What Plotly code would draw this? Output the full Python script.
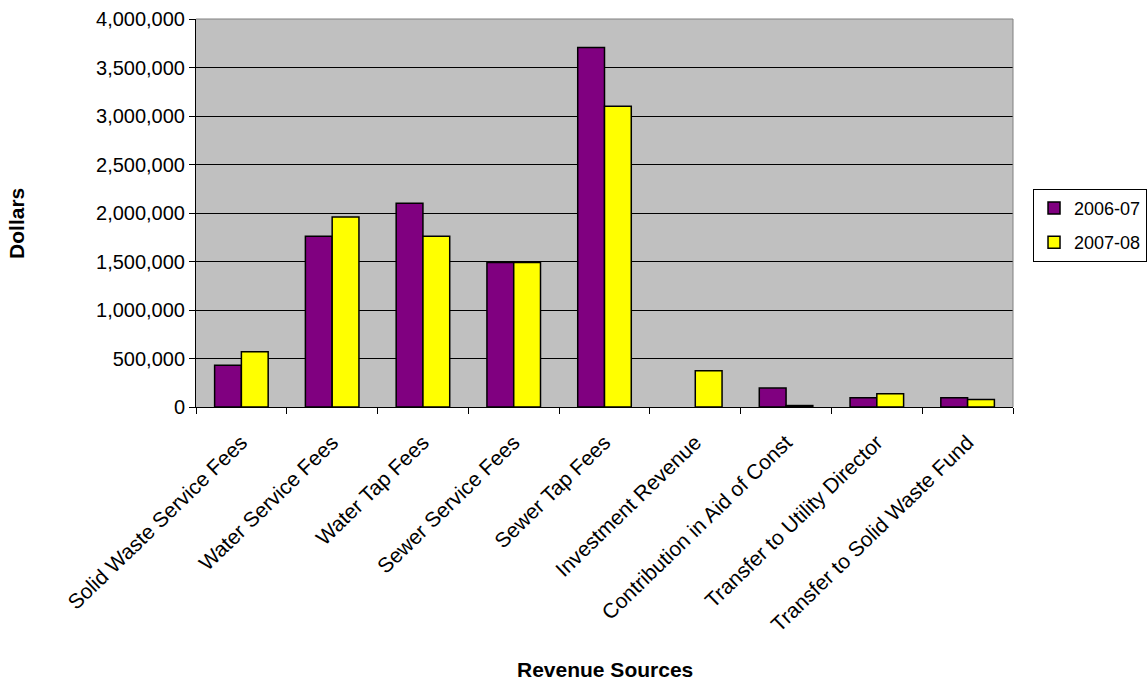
import plotly.graph_objects as go

categories = ["Solid Waste Service Fees", "Water Service Fees", "Water Tap Fees",
              "Sewer Service Fees", "Sewer Tap Fees", "Investment Revenue",
              "Contribution in Aid of Const", "Transfer to Utility Director",
              "Transfer to Solid Waste Fund"]
fy_2006_07 = [430000, 1760000, 2100000, 1490000, 3705000, None, 195000, 96000, 96000]
fy_2007_08 = [570000, 1960000, 1760000, 1490000, 3100000, 375000, 15000, 137000, 78000]
y_ticks = [0, 500000, 1000000, 1500000, 2000000, 2500000, 3000000, 3500000, 4000000]

FONT = "Liberation Sans, Arial, sans-serif"

fig = go.Figure()
fig.add_trace(go.Bar(name="2006-07", x=categories, y=fy_2006_07, legendgroup="a",
                     marker=dict(color="#800080", line=dict(color="black", width=1.5))))
fig.add_trace(go.Bar(name="2007-08", x=categories, y=fy_2007_08, legendgroup="b",
                     marker=dict(color="#FFFF00", line=dict(color="black", width=1.5))))

fig.update_layout(
    width=1147, height=683,
    margin=dict(l=196, r=134, t=19, b=276, autoexpand=False),
    paper_bgcolor="white",
    plot_bgcolor="#C0C0C0",
    barmode="group",
    bargap=0.41,
    bargroupgap=0,
    font=dict(family=FONT, size=20, color="black"),
    showlegend=True,
    legend=dict(
        x=1.0245, y=0.5625, xanchor="left", yanchor="top",
        xref="paper", yref="paper",
        bordercolor="black", borderwidth=1, bgcolor="white",
        font=dict(family=FONT, size=18),
        traceorder="grouped", tracegroupgap=8,
    ),
    xaxis=dict(
        tickangle=-44, tickfont=dict(family=FONT, size=21),
        showline=True, linecolor="black", linewidth=1,
        ticks="outside", ticklen=6, tickcolor="black",
        tickson="boundaries", showgrid=False, mirror=False,
        automargin=False, ticklabelstandoff=14,
    ),
    yaxis=dict(
        range=[0, 4000000], tickvals=y_ticks,
        tickformat=",d", tickfont=dict(family=FONT, size=20),
        showline=True, linecolor="black", linewidth=1,
        ticks="outside", ticklen=6, tickcolor="black",
        showgrid=True, gridcolor="black", gridwidth=1,
        zeroline=False, automargin=False,
    ),
    shapes=[
        dict(type="line", xref="paper", yref="paper", x0=0, x1=1, y0=1, y1=1,
             line=dict(color="#808080", width=1)),
        dict(type="line", xref="paper", yref="paper", x0=1, x1=1, y0=0, y1=1,
             line=dict(color="#808080", width=1)),
    ],
    annotations=[
        dict(text="<b>Revenue Sources</b>", xref="paper", yref="paper",
             x=0.5, y=-0.676, xanchor="center", yanchor="middle",
             showarrow=False, font=dict(family=FONT, size=21)),
        dict(text="<b>Dollars</b>", xref="paper", yref="paper",
             x=-0.219, y=0.472, xanchor="center", yanchor="middle",
             textangle=-90, showarrow=False, font=dict(family=FONT, size=21)),
    ],
)

fig.write_html("out.html")
